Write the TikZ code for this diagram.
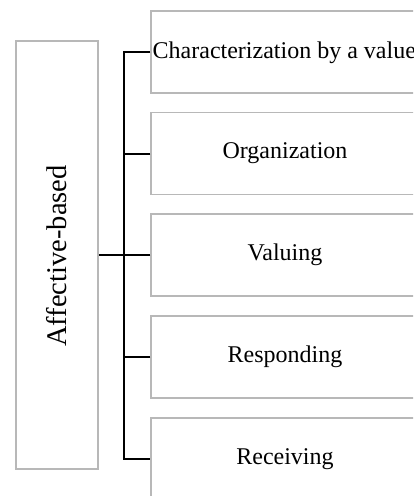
\documentclass[tikz,border=0pt]{standalone}
\usepackage{fontspec}
\setmainfont{Liberation Serif}
\begin{document}
\begin{tikzpicture}[x=1pt,y=-1pt,
  gbox/.style={draw=black!28, line width=1.5pt, rectangle, inner sep=0pt,
    minimum width=268pt, minimum height=82pt, font=\fontsize{24}{26}\selectfont},
  leftbox/.style={draw=black!28, line width=1.5pt, rectangle, inner sep=0pt,
    minimum width=82pt, minimum height=428pt},
  conn/.style={draw=black, line width=2pt}]
\useasboundingbox (0,0) rectangle (413,496);
\clip (0,0) rectangle (413,496);
\fill[white] (0,0) rectangle (413,496);
\node[leftbox] (aff) at (57,255) {};
\node[rotate=90, font=\fontsize{28.5}{32}\selectfont] (afft) at (57,256) {Affective-based};
\node[gbox] (b1) at (285,52) {};
\node[anchor=west, inner sep=0pt, font=\fontsize{24}{26}\selectfont] (b1t) at (152.5,53) {Characterization by a value};
\node[gbox] (b2) at (285,153.5) {Organization};
\node[gbox] (b3) at (285,255) {Valuing};
\node[gbox] (b4) at (285,357) {Responding};
\node[gbox] (b5) at (285,459) {Receiving};
\coordinate (t) at (124,255);
\draw[conn] (aff.east) -- (t);
\draw[conn] (b1.west) -- (b1.west -| t) -- (b5.west -| t) -- (b5.west);
\draw[conn] (b2.west) -- (b2.west -| t);
\draw[conn] (b3.west) -- (b3.west -| t);
\draw[conn] (b4.west) -- (b4.west -| t);
\end{tikzpicture}
\end{document}
